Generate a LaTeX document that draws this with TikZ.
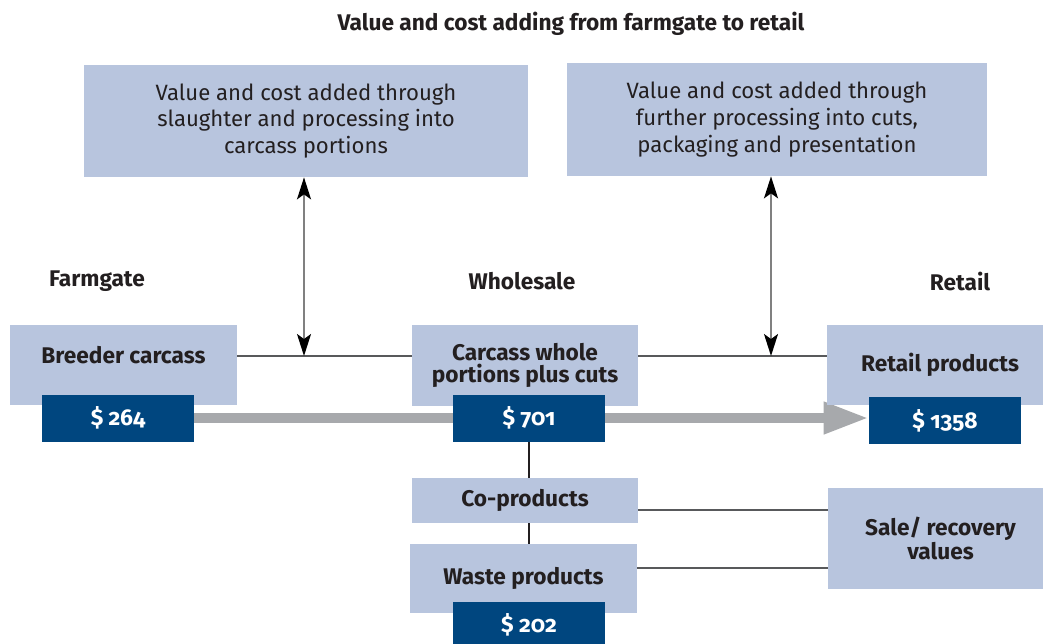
\documentclass[tikz,border=0pt]{standalone}
\usepackage{fontspec}
\setmainfont{Fira Sans}[Numbers=OldStyle]
\usetikzlibrary{positioning}
\usetikzlibrary{arrows.meta,backgrounds}
\definecolor{boxblue}{HTML}{B8C5DE}
\definecolor{darkblue}{HTML}{00467F}
\definecolor{bargray}{HTML}{A7A9AC}
\definecolor{ink}{HTML}{231F20}
\definecolor{rulegray}{HTML}{58595B}
\newdimen\px \px=0.02cm

\begin{document}
\begin{tikzpicture}[x=0.02cm,y=-0.02cm,every node/.style={font=\fontsize{12.6}{15.2}\selectfont,text=ink}]
	
	\tikzstyle{stage}=[rectangle,fill=boxblue,inner sep=0pt,align=center]
	\tikzstyle{heading}=[font=\bfseries\fontsize{12.9}{12.6}\selectfont,align=center]
	\tikzstyle{price}=[rectangle,fill=darkblue,text=white,font=\bfseries\fontsize{13}{15}\selectfont,minimum width=152\px,minimum height=47\px]
	\tikzstyle{link}=[draw=rulegray,line width=0.8pt]
	\tikzstyle{stem}=[draw=ink,line width=1.2pt]
	\tikzstyle{updown}=[draw=gray,line width=1pt,{Stealth[black,length=0.44cm,width=0.28cm,inset=0.1cm]}-{Stealth[black,length=0.44cm,width=0.28cm,inset=0.1cm]}]
	\tikzstyle{bar}=[draw=bargray,line width=0.2cm,-{Triangle[length=0.9cm,width=0.6cm]}]
	
	\useasboundingbox (0,0) rectangle (1043,643);
	
		\node [heading] (title) at (571,24) {Value and cost adding from farmgate to retail};
		\node [stage,minimum width=444\px,minimum height=112\px] (slaughter) at (306,121) {Value and cost added through\\slaughter and processing into\\carcass portions};
		\node [stage,minimum width=420\px,minimum height=113\px] (further) at (777,119.5) {Value and cost added through\\further processing into cuts,\\packaging and presentation};
		\node [heading] (farmgate) at (97,281) {Farmgate};
		\node [heading] (wholesale) at (522,281) {Wholesale};
		\node [heading] (retail) at (960,281) {Retail};
		\node [stage,minimum width=227\px,minimum height=80\px,label={[heading,yshift=10\px]center:Breeder carcass}] (breeder) at (123.5,365) {};
		\node [stage,heading,minimum width=226\px,minimum height=81\px] (carcass) at (525,365.5) {Carcass whole\\portions plus cuts};
		\node [stage,heading,minimum width=226\px,minimum height=80\px] (retailbox) at (940,365) {Retail products};
		\node [price] (p264) at (118,418) {\$ 264};
		\node [price] (p701) at (529,418) {\$ 701};
		\node [price] (p1358) at (945,420.5) {\$ 1358};
		\node [stage,heading,minimum width=226\px,minimum height=45\px] (coprod) at (525,500.5) {Co-products};
		\node [stage,heading,minimum width=227\px,minimum height=69\px] (waste) at (523.5,578.5) {Waste products};
		\node [price] (p202) at (529,625) {\$ 202};
		\node [stage,heading,minimum width=225\px,minimum height=101\px] (sale) at (940.5,538.5) {Sale/ recovery\\values};
		
		\coordinate (j1) at (304,356);
		\coordinate (j2) at (771,356);
		\coordinate (k1) at (730,510);
		\coordinate (k2) at (730,568);
		\draw[link] (breeder.east |- j1) -- (carcass.west |- j1);
		\draw[link] (carcass.east |- j2) -- (retailbox.west |- j2);
		\draw[updown] (slaughter.south -| j1) -- (j1);
		\draw[updown] (further.south -| j2) -- (j2);
		\draw[link] (coprod.east |- k1) -- (sale.west |- k1);
		\draw[link] (waste.east |- k2) -- (sale.west |- k2);
		\draw[stem] (p701.south) -- (p701.south |- coprod.north);
		\draw[stem] (coprod.south -| p701) -- (waste.north -| p701);
		\begin{pgfonlayer}{background}
		\draw[bar] (p264.east) -- (p264.east -| p1358.west);
		\end{pgfonlayer}
	
\end{tikzpicture}
\end{document}
